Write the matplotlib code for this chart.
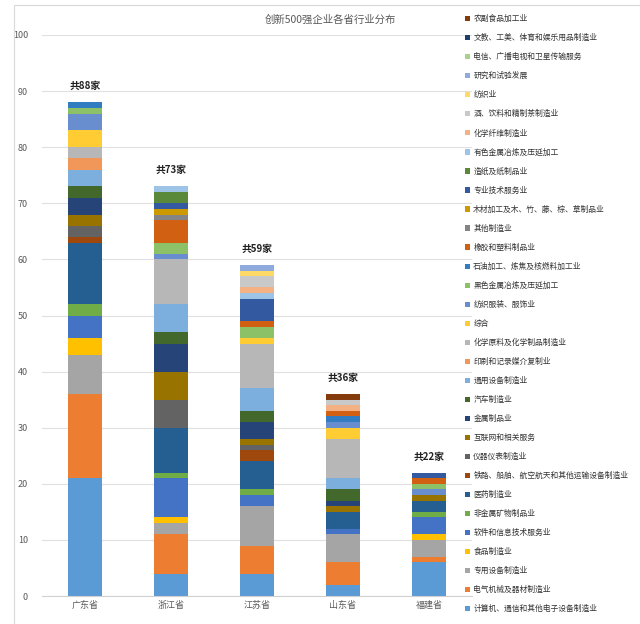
import matplotlib.pyplot as plt
from matplotlib.patches import Rectangle

plt.rcParams['font.family'] = ['Noto Sans CJK SC', 'DejaVu Sans']

# 省份
provinces = ['广东省', '浙江省', '江苏省', '山东省', '福建省']

# 行业（自下而上的堆叠顺序）
industries = [
    '计算机、通信和其他电子设备制造业', '电气机械及器材制造业', '专用设备制造业', '食品制造业',
    '软件和信息技术服务业', '非金属矿物制品业', '医药制造业', '铁路、船舶、航空航天和其他运输设备制造业',
    '仪器仪表制造业', '互联网和相关服务', '金属制品业', '汽车制造业',
    '通用设备制造业', '印刷和记录媒介复制业', '化学原料及化学制品制造业', '综合',
    '纺织服装、服饰业', '黑色金属冶炼及压延加工', '石油加工、炼焦及核燃料加工业', '橡胶和塑料制品业',
    '其他制造业', '木材加工及木、竹、藤、棕、草制品业', '专业技术服务业', '造纸及纸制品业',
    '有色金属冶炼及压延加工', '化学纤维制造业', '酒、饮料和精制茶制造业', '纺织业',
    '研究和试验发展', '电信、广播电视和卫星传输服务', '文教、工美、体育和娱乐用品制造业', '农副食品加工业',
]

# 各省各行业企业数（与 industries 顺序一致）
guangdong = [21, 15, 7, 3, 4, 2, 11, 1, 2, 2, 3, 2, 3, 2, 2, 3,
             3, 1, 1, 0, 0, 0, 0, 0, 0, 0, 0, 0, 0, 0, 0, 0]
zhejiang = [4, 7, 2, 1, 7, 1, 8, 0, 5, 5, 5, 2, 5, 0, 8, 0,
            1, 2, 0, 4, 1, 1, 1, 2, 1, 0, 0, 0, 0, 0, 0, 0]
jiangsu = [4, 5, 7, 0, 2, 1, 5, 2, 1, 1, 3, 2, 4, 0, 8, 1,
           0, 2, 0, 1, 0, 0, 4, 0, 1, 1, 2, 1, 1, 0, 0, 0]
shandong = [2, 4, 5, 0, 1, 0, 3, 0, 0, 1, 1, 2, 2, 0, 7, 2,
            1, 0, 1, 1, 0, 0, 0, 0, 0, 1, 1, 0, 0, 0, 0, 1]
fujian = [6, 1, 3, 1, 3, 1, 2, 0, 0, 1, 0, 0, 0, 0, 0, 0,
          1, 1, 0, 1, 0, 0, 1, 0, 0, 0, 0, 0, 0, 0, 0, 0]

colors = [
    '#5B9BD5', '#ED7D31', '#A5A5A5', '#FFC000', '#4472C4', '#70AD47',
    '#255E91', '#9E480E', '#636363', '#997300', '#264478', '#43682B',
    '#7CAFDD', '#F1975A', '#B7B7B7', '#FFCD33', '#698ED0', '#8CC168',
    '#327DC2', '#D26012', '#848484', '#CC9A00', '#335AA1', '#5A8A39',
    '#9DC3E6', '#F4B183', '#C9C9C9', '#FFD966', '#8FAADC', '#A9D18E',
    '#1F3E6E', '#843C0C',
]

table = [guangdong, zhejiang, jiangsu, shandong, fujian]

fig = plt.figure(figsize=(6.4, 6.24), dpi=100)
ax = fig.add_axes([42 / 640, 28 / 624, 430 / 640, 561 / 624])

x = list(range(len(provinces)))
bottom = [0] * len(provinces)
handles = []
for i, name in enumerate(industries):
    vals = [row[i] for row in table]
    b = ax.bar(x, vals, width=0.4, bottom=bottom, color=colors[i], label=name)
    handles.append(b)
    bottom = [bt + v for bt, v in zip(bottom, vals)]

for xi, tot in zip(x, bottom):
    ax.annotate(f'共{tot}家', (xi, tot), xytext=(0, 8), textcoords='offset points',
                ha='center', va='bottom', fontsize=7, fontweight='bold', color='#222222')

ax.set_xlim(-0.5, 4.5)
ax.set_ylim(0, 100)
ax.set_yticks(range(0, 101, 10))
ax.set_xticks(x)
ax.set_xticklabels(provinces)
ax.tick_params(axis='both', length=0, labelsize=6.5, colors='#595959')
ax.tick_params(axis='y', pad=10)
ax.grid(axis='y', color='#E0E0E0', linewidth=0.8)
ax.set_axisbelow(True)
for s in ['top', 'right', 'left']:
    ax.spines[s].set_visible(False)
ax.spines['bottom'].set_color('#D0D0D0')

fig.text(0.516, 0.968, '创新500强企业各省行业分布', ha='center', va='center',
         fontsize=7.5, color='#595959')

fig.legend(handles[::-1], industries[::-1], loc='upper left',
           bbox_to_anchor=(462 / 640, 1 - 12 / 624), frameon=False, fontsize=5.6,
           handlelength=0.65, handleheight=0.65, handletextpad=0.4,
           labelspacing=1.40, borderaxespad=0, labelcolor='#333333')

fig.patches.append(Rectangle((14 / 640, -0.1), 1.2, 1 - 5 / 624 + 0.1,
                             transform=fig.transFigure, fill=False,
                             edgecolor='#D9D9D9', linewidth=0.8))

fig.savefig('out.png', dpi=100)
